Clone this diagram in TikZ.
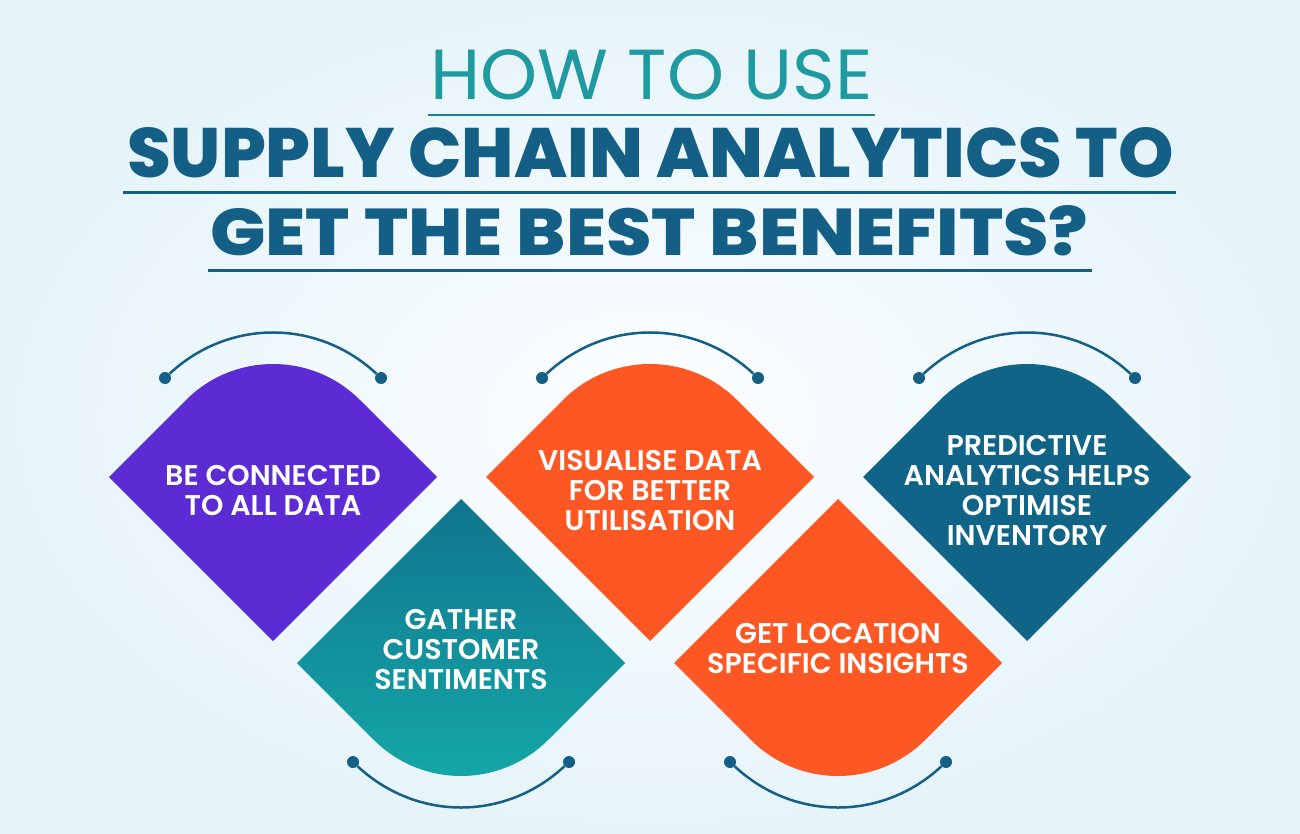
\documentclass[tikz,border=0pt]{standalone}
\usepackage{fontspec}
\usepackage{graphicx}
\usetikzlibrary{positioning}
\setmainfont{Poppins}
\IfFontExistsTF{Poppins SemiBold}
  {\newfontfamily\cardfont{Poppins SemiBold}}
  {\newfontfamily\cardfontbase{Poppins}\newcommand{\cardfont}{\cardfontbase\bfseries}}
\IfFontExistsTF{Poppins ExtraBold}
  {\newfontfamily\titlefont{Poppins ExtraBold}}
  {\newcommand{\titlefont}{\bfseries}}
\definecolor{InkBlue}{HTML}{135F86}
\definecolor{HeadTeal}{HTML}{1E9AA0}
\definecolor{CardPurple}{HTML}{5C2BD4}
\definecolor{CardTeal}{HTML}{14A9A8}
\definecolor{CardTealDeep}{HTML}{10758F}
\definecolor{CardOrange}{HTML}{FD5824}
\definecolor{CardBlue}{HTML}{106488}
\definecolor{BgBlue}{HTML}{E6F4FA}
\definecolor{BgWhite}{HTML}{FCFEFF}

\tikzset{
  heading/.style={inner sep=0pt, anchor=base west},
  underrule/.style={draw=InkBlue, line width=3pt},
  cardlabel/.style={text=white, align=center, inner sep=0pt,
                    font=\cardfont\fontsize{28.5}{30}\selectfont},
  arcline/.style={draw=InkBlue, line width=2.5pt},
  arcdot/.style={circle, fill=InkBlue, minimum size=12pt, inner sep=0pt},
}

% diamond cards, rounded on top or at the bottom
\newcommand{\upcard}[2]{%
  \path[#2, shift={(#1)}] (0,164) -- (-164,0) -- (-87,-77)
    .. controls (-39,-125) and (39,-125) .. (87,-77) -- (164,0) -- cycle;}
\newcommand{\downcard}[2]{%
  \path[#2, shift={(#1)}] (0,-164) -- (-164,0) -- (-87,77)
    .. controls (-39,125) and (39,125) .. (87,77) -- (164,0) -- cycle;}

\begin{document}
\begin{tikzpicture}[x=1pt, y=-1pt]
\path[use as bounding box] (0,0) rectangle (1300,834);
\shade[inner color=BgWhite, outer color=BgBlue] (0,0) rectangle (1300,834);

% title
\node[heading, text=HeadTeal] (how) at (430,100)
  {\resizebox{442pt}{50pt}{HOW TO USE}};
\node[heading, text=InkBlue] (supply) at (127,178)
  {\resizebox{1046pt}{50pt}{\titlefont SUPPLY CHAIN ANALYTICS TO}};
\node[heading, text=InkBlue] (best) at (210,255)
  {\resizebox{878pt}{50pt}{\titlefont GET THE BEST BENEFITS?}};
\coordinate (howL) at (428,115);   \coordinate (howR) at (875,115);
\coordinate (supL) at (123,193);   \coordinate (supR) at (1176,193);
\coordinate (bestL) at (208,270);  \coordinate (bestR) at (1092,270);
\draw[underrule, draw=HeadTeal!55!InkBlue, line width=2.5pt] (howL) -- (howR);
\draw[underrule] (supL) -- (supR);
\draw[underrule] (bestL) -- (bestR);

% cards
\upcard{273,477}{fill=CardPurple}
\downcard{461,663}{top color=CardTealDeep, middle color=CardTeal, bottom color=CardTeal}
\upcard{650,477}{fill=CardOrange}
\downcard{838,663}{fill=CardOrange}
\upcard{1027,477}{fill=CardBlue}

\node[cardlabel] (connect) at (273,491) {BE CONNECTED\\TO ALL DATA};
\node[cardlabel] (gather) at (461,650) {GATHER\\CUSTOMER\\SENTIMENTS};
\node[cardlabel] (visual) at (650,491) {VISUALISE DATA\\FOR BETTER\\UTILISATION};
\node[cardlabel] (locate) at (838,649) {GET LOCATION\\SPECIFIC INSIGHTS};
\node[cardlabel] (predict) at (1027,491) {PREDICTIVE\\ANALYTICS HELPS\\OPTIMISE\\INVENTORY};

% arcs over and under the cards
\foreach \cx/\nm in {273/a, 650/c, 1027/e} {
  \node[arcdot] (\nm-l) at (\cx-108,378) {};
  \node[arcdot] (\nm-r) at (\cx+108,378) {};
  \draw[arcline] (\nm-l) to[bend left=43] (\nm-r);
}
\foreach \cx/\nm in {461/b, 838/d} {
  \node[arcdot] (\nm-l) at (\cx-108,762) {};
  \node[arcdot] (\nm-r) at (\cx+108,762) {};
  \draw[arcline] (\nm-l) to[bend right=43] (\nm-r);
}
\end{tikzpicture}
\end{document}
